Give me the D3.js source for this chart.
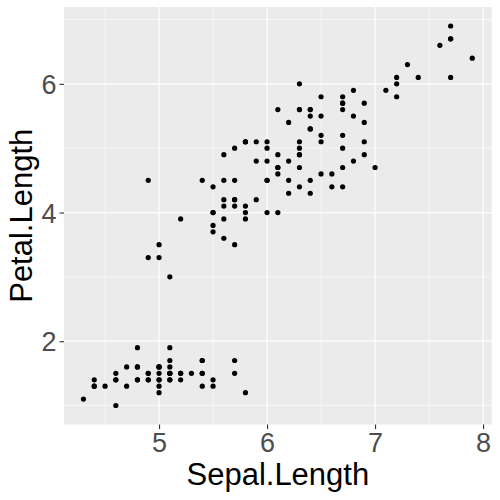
<!DOCTYPE html>
<html><head><meta charset="utf-8">
<script src="https://cdn.jsdelivr.net/npm/d3@7"></script>
<style>body{margin:0;background:#fff}</style>
</head><body>
<svg id="c" width="500" height="500"></svg>
<script>
const sepalLength = [5.1,4.9,4.7,4.6,5.0,5.4,4.6,5.0,4.4,4.9,5.4,4.8,4.8,4.3,5.8,5.7,5.4,5.1,5.7,5.1,5.4,5.1,4.6,5.1,4.8,5.0,5.0,5.2,5.2,4.7,4.8,5.4,5.2,5.5,4.9,5.0,5.5,4.9,4.4,5.1,5.0,4.5,4.4,5.0,5.1,4.8,5.1,4.6,5.3,5.0,
7.0,6.4,6.9,5.5,6.5,5.7,6.3,4.9,6.6,5.2,5.0,5.9,6.0,6.1,5.6,6.7,5.6,5.8,6.2,5.6,5.9,6.1,6.3,6.1,6.4,6.6,6.8,6.7,6.0,5.7,5.5,5.5,5.8,6.0,5.4,6.0,6.7,6.3,5.6,5.5,5.5,6.1,5.8,5.0,5.6,5.7,5.7,6.2,5.1,5.7,
6.3,5.8,7.1,6.3,6.5,7.6,4.9,7.3,6.7,7.2,6.5,6.4,6.8,5.7,5.8,6.4,6.5,7.7,7.7,6.0,6.9,5.6,7.7,6.3,6.7,7.2,6.2,6.1,6.4,7.2,7.4,7.9,6.4,6.3,6.1,7.7,6.3,6.4,6.0,6.9,6.7,6.9,5.8,6.8,6.7,6.7,6.3,6.5,6.2,5.9];
const petalLength = [1.4,1.4,1.3,1.5,1.4,1.7,1.4,1.5,1.4,1.5,1.5,1.6,1.4,1.1,1.2,1.5,1.3,1.4,1.7,1.5,1.7,1.5,1.0,1.7,1.9,1.6,1.6,1.5,1.4,1.6,1.6,1.5,1.5,1.4,1.5,1.2,1.3,1.4,1.3,1.5,1.3,1.3,1.3,1.6,1.9,1.4,1.6,1.4,1.5,1.4,
4.7,4.5,4.9,4.0,4.6,4.5,4.7,3.3,4.6,3.9,3.5,4.2,4.0,4.7,3.6,4.4,4.5,4.1,4.5,3.9,4.8,4.0,4.9,4.7,4.3,4.4,4.8,5.0,4.5,3.5,3.8,3.7,3.9,5.1,4.5,4.5,4.7,4.4,4.1,4.0,4.4,4.6,4.0,3.3,4.2,4.2,4.2,4.3,3.0,4.1,
6.0,5.1,5.9,5.6,5.8,6.6,4.5,6.3,5.8,6.1,5.1,5.3,5.5,5.0,5.1,5.3,5.5,6.7,6.9,5.0,5.7,4.9,6.7,4.9,5.7,6.0,4.8,4.9,5.6,5.8,6.1,6.4,5.6,5.1,5.6,6.1,5.6,5.5,4.8,5.4,5.6,5.1,5.1,5.9,5.7,5.2,5.0,5.2,5.4,5.1];
const xTicks = [5,6,7,8];
const yTicks = [2,4,6];
const xMinor = [4.5,5.5,6.5,7.5];
const yMinor = [1,3,5,7];
const xLabel = "Sepal.Length", yLabel = "Petal.Length";

const svg = d3.select("#c");
const L = 64, R = 491.7, T = 7, B = 424.5;
const xr = d3.extent(sepalLength), yr = d3.extent(petalLength);
const xe = (xr[1]-xr[0])*0.05, ye = (yr[1]-yr[0])*0.05;
const x = d3.scaleLinear().domain([xr[0]-xe, xr[1]+xe]).range([L, R]);
const y = d3.scaleLinear().domain([yr[0]-ye, yr[1]+ye]).range([B, T]);

svg.append("rect").attr("x",L).attr("y",T).attr("width",R-L).attr("height",B-T).attr("fill","#EBEBEB");
const g = svg.append("g");
xMinor.forEach(v=>g.append("line").attr("x1",x(v)).attr("x2",x(v)).attr("y1",T).attr("y2",B).attr("stroke","#fff").attr("stroke-width",0.6));
yMinor.forEach(v=>g.append("line").attr("y1",y(v)).attr("y2",y(v)).attr("x1",L).attr("x2",R).attr("stroke","#fff").attr("stroke-width",0.6));
xTicks.forEach(v=>g.append("line").attr("x1",x(v)).attr("x2",x(v)).attr("y1",T).attr("y2",B).attr("stroke","#fff").attr("stroke-width",1.2));
yTicks.forEach(v=>g.append("line").attr("y1",y(v)).attr("y2",y(v)).attr("x1",L).attr("x2",R).attr("stroke","#fff").attr("stroke-width",1.2));

svg.append("g").selectAll("circle").data(d3.range(sepalLength.length)).join("circle")
  .attr("cx",i=>x(sepalLength[i])).attr("cy",i=>y(petalLength[i])).attr("r",2.6).attr("fill","#000");

const xa = svg.append("g").attr("transform",`translate(0,${B})`)
  .call(d3.axisBottom(x).tickValues(xTicks).tickSize(4.5).tickPadding(4).tickFormat(d3.format("d")));
const ya = svg.append("g").attr("transform",`translate(${L},0)`)
  .call(d3.axisLeft(y).tickValues(yTicks).tickSize(4.5).tickPadding(3).tickFormat(d3.format("d")));
[xa,ya].forEach(a=>{
  a.select(".domain").remove();
  a.selectAll(".tick line").attr("stroke","#333").attr("stroke-width",1.1);
  a.selectAll("text").attr("fill","#4D4D4D").style("font-family","Liberation Sans, Arial, sans-serif").style("font-size","27px");
});
ya.selectAll("text").attr("dy","0.36em");
xa.selectAll("text").attr("dy","0.72em");

svg.append("text").attr("x",(L+R)/2).attr("y",485).attr("text-anchor","middle")
  .style("font-family","Liberation Sans, Arial, sans-serif").style("font-size","31px").attr("fill","#000").text(xLabel);
svg.append("text").attr("transform",`translate(32,${(T+B)/2}) rotate(-90)`).attr("text-anchor","middle")
  .style("font-family","Liberation Sans, Arial, sans-serif").style("font-size","31px").attr("fill","#000").text(yLabel);
</script>
</body></html>
